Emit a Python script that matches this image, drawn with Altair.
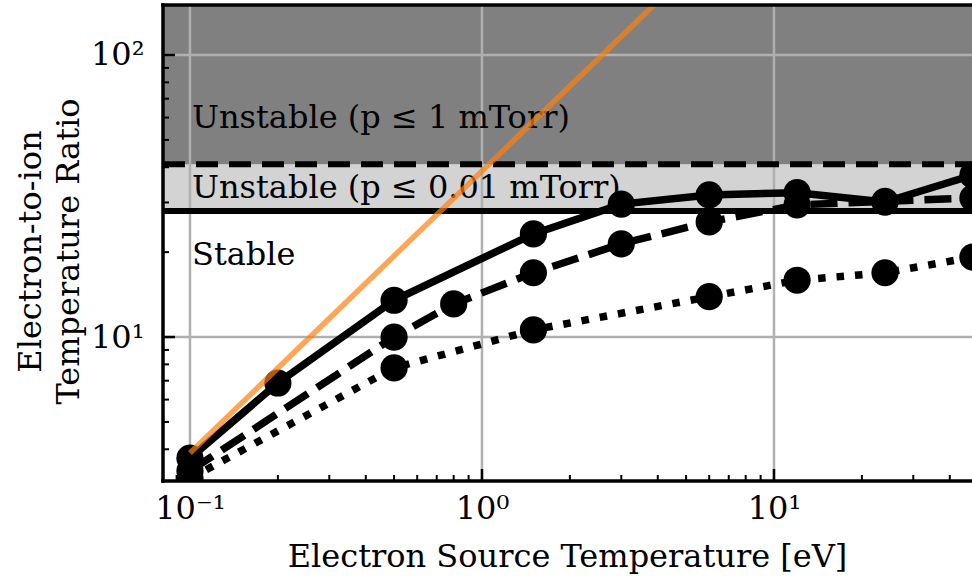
import altair as alt
import pandas as pd

# ---- data ----
solid_x = [0.1, 0.2, 0.5, 1.5, 3, 6, 12, 24, 48]
solid_y = [3.72, 6.87, 13.5, 23.2, 29.6, 31.9, 32.5, 30.1, 37.5]
dashed_x = [0.1, 0.5, 0.8, 1.5, 3, 6, 12, 24, 48]
dashed_y = [3.35, 10.0, 13.1, 16.9, 21.4, 25.6, 29.4, 30.3, 31.1]
dotted_x = [0.1, 0.5, 1.5, 6, 12, 24, 48]
dotted_y = [3.15, 7.77, 10.6, 13.9, 15.9, 16.9, 19.2]
orange_x = [0.1, 4.0]
orange_y = [3.88, 155.0]

threshold_low = 28.0     # stable / unstable (p <= 0.01 mTorr)
threshold_high = 41.0    # unstable (p <= 1 mTorr)
band_top = 160.0

labels_text = ["Unstable (p ≤ 1 mTorr)", "Unstable (p ≤ 0.01 mTorr)", "Stable"]
labels_x = [0.1016, 0.1016, 0.1016]
labels_y = [55.0, 31.0, 18.0]

x_major = [0.1, 1, 10]
x_minor = [0.09, 0.2, 0.3, 0.4, 0.5, 0.6, 0.7, 0.8, 0.9,
           2, 3, 4, 5, 6, 7, 8, 9, 20, 30, 40]
y_major = [10, 100]
y_minor = [4, 5, 6, 7, 8, 9, 20, 30, 40, 50, 60, 70, 80, 90]

# ---- layout ----
W, H = 809, 476
FONT = "DejaVu Serif"
FS = 32

xs = alt.Scale(type="log", domain=[0.08084, 47.66], nice=False)
ys = alt.Scale(type="log", domain=[3.087, 150.4], nice=False)

xaxis = alt.Axis(
    values=x_major,
    labelExpr="datum.value < 0.5 ? '10⁻¹' : (datum.value < 5 ? '10⁰' : '10¹')",
    ticks=False, domain=False, grid=False,
    labelFont=FONT, labelFontSize=FS, labelColor="black",
    labelBaseline="alphabetic", labelPadding=37, labelFlush=False,
    title="Electron Source Temperature [eV]",
    titleFont=FONT, titleFontSize=FS, titleFontWeight="normal", titleColor="black",
    titleX=404, titleY=85, titleBaseline="alphabetic", titleAlign="center",
)
yaxis = alt.Axis(
    values=y_major,
    labelExpr="datum.value < 50 ? '10¹' : '10²'",
    ticks=False, domain=False, grid=False,
    labelFont=FONT, labelFontSize=FS, labelColor="black",
    labelBaseline="middle", labelPadding=19, labelFlush=False,
    title=["Electron-to-ion", "Temperature Ratio"],
    titleFont=FONT, titleFontSize=FS, titleFontWeight="normal", titleColor="black",
    titleAngle=-90, titleX=-133, titleY=246, titleAlign="center",
    titleBaseline="middle", titleLineHeight=38,
)


def X(f="x"):
    return alt.X(f"{f}:Q", scale=xs, axis=xaxis)


def Y(f="y"):
    return alt.Y(f"{f}:Q", scale=ys, axis=yaxis)


bands_df = pd.DataFrame({
    "lo": [threshold_low, threshold_high],
    "hi": [threshold_high, band_top],
    "c": ["#d3d3d3", "#808080"],
})
bands = alt.Chart(bands_df).mark_rect(clip=True).encode(
    x=alt.value(0), x2=alt.value(W),
    y=Y("lo"), y2="hi:Q",
    color=alt.Color("c:N", scale=None),
)

gx = alt.Chart(pd.DataFrame({"x": x_major})).mark_rule(
    color="#b0b0b0", strokeWidth=2.5).encode(
    x=X(), y=alt.value(0), y2=alt.value(H))
gy = alt.Chart(pd.DataFrame({"y": y_major})).mark_rule(
    color="#b0b0b0", strokeWidth=2.5).encode(
    y=Y(), x=alt.value(0), x2=alt.value(W))

thr_solid = alt.Chart(pd.DataFrame({"y": [threshold_low]})).mark_rule(
    color="black", strokeWidth=6).encode(
    y=Y(), x=alt.value(0), x2=alt.value(W))
thr_dash = alt.Chart(pd.DataFrame({"y": [threshold_high]})).mark_rule(
    color="black", strokeWidth=6, strokeDash=[22, 11], strokeCap="butt").encode(
    y=Y(), x=alt.value(0), x2=alt.value(W))

texts = alt.Chart(pd.DataFrame({"x": labels_x, "y": labels_y, "t": labels_text})).mark_text(
    align="left", baseline="alphabetic", font=FONT, fontSize=FS, color="black").encode(
    x=X(), y=Y(), text="t:N")


def series(xv, yv, dash):
    df = pd.DataFrame({"x": xv, "y": yv})
    kw = dict(color="black", strokeWidth=7.5, clip=True, strokeCap="butt")
    if dash:
        kw["strokeDash"] = dash
    line = alt.Chart(df).mark_line(**kw).encode(x=X(), y=Y())
    pts = alt.Chart(df).mark_circle(color="black", size=740, opacity=1, clip=True).encode(
        x=X(), y=Y())
    return line, pts


s1 = series(solid_x, solid_y, None)
s2 = series(dashed_x, dashed_y, [27, 11])
s3 = series(dotted_x, dotted_y, [7.5, 11])

orange = alt.Chart(pd.DataFrame({"x": orange_x, "y": orange_y})).mark_line(
    color="#ff7f0e", opacity=0.7, strokeWidth=5.5, clip=True).encode(x=X(), y=Y())

# ---- inward ticks and spines ----
tx_maj = alt.Chart(pd.DataFrame({"x": x_major})).mark_rule(color="black", strokeWidth=2.5).encode(
    x=X(), y=alt.value(H), y2=alt.value(H - 12))
tx_min = alt.Chart(pd.DataFrame({"x": x_minor})).mark_rule(color="black", strokeWidth=2).encode(
    x=X(), y=alt.value(H), y2=alt.value(H - 6))
ty_maj = alt.Chart(pd.DataFrame({"y": y_major})).mark_rule(color="black", strokeWidth=2.5).encode(
    y=Y(), x=alt.value(0), x2=alt.value(12))
ty_min = alt.Chart(pd.DataFrame({"y": y_minor})).mark_rule(color="black", strokeWidth=2).encode(
    y=Y(), x=alt.value(0), x2=alt.value(6))

sp_top = alt.Chart(pd.DataFrame({"a": [0]})).mark_rule(color="black", strokeWidth=3.5).encode(
    x=alt.value(-1.75), x2=alt.value(W), y=alt.value(0))
sp_bot = alt.Chart(pd.DataFrame({"a": [0]})).mark_rule(color="black", strokeWidth=3.5).encode(
    x=alt.value(-1.75), x2=alt.value(W), y=alt.value(H))
sp_left = alt.Chart(pd.DataFrame({"a": [0]})).mark_rule(color="black", strokeWidth=3.5).encode(
    x=alt.value(0), y=alt.value(-1.75), y2=alt.value(H + 1.75))

chart = alt.layer(
    bands, gx, gy, thr_solid, thr_dash, texts,
    s3[0], s2[0], s1[0], s3[1], s2[1], s1[1],
    orange,
    tx_maj, tx_min, ty_maj, ty_min, sp_top, sp_bot, sp_left,
).properties(
    width=W, height=H,
    autosize=alt.AutoSizeParams(type="none"),
    padding={"left": 163, "top": 5, "right": 0, "bottom": 101},
    background="white",
).configure_view(strokeWidth=0)

chart.save("out.html", embed_options={"renderer": "svg", "actions": False})
